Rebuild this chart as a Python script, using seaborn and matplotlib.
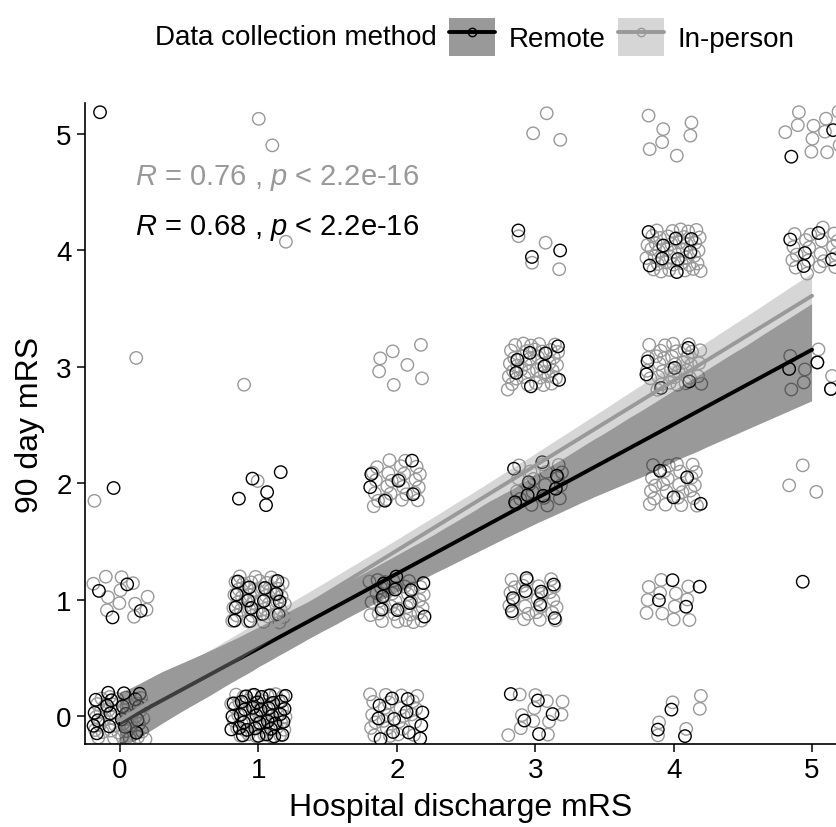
import numpy as np
import pandas as pd
import matplotlib
matplotlib.use("Agg")
import matplotlib.pyplot as plt
import seaborn as sns
from matplotlib.patches import Rectangle
from matplotlib.lines import Line2D

# ---- data (counts of patients per discharge mRS x 90-day mRS cell) ----
discharge_levels = [0, 1, 2, 3, 4, 5]
day90_levels = [0, 1, 2, 3, 4, 5]
remote_counts = [      # rows: discharge mRS 0..5, cols: 90 day mRS 0..5
    [20, 4, 1, 0, 0, 1],
    [35, 15, 5, 0, 0, 0],
    [12, 10, 6, 0, 0, 0],
    [5, 8, 8, 8, 3, 0],
    [3, 4, 4, 6, 9, 0],
    [0, 1, 0, 3, 5, 2],
]
inperson_counts = [
    [40, 12, 1, 1, 0, 0],
    [45, 45, 1, 1, 1, 2],
    [25, 35, 25, 7, 0, 0],
    [12, 25, 20, 40, 4, 3],
    [6, 12, 25, 35, 40, 7],
    [0, 0, 3, 8, 20, 11],
]
group_names = ["Remote", "In-person"]
r_values = ["0.76", "0.68"]       # In-person, Remote
p_text = "2.2e-16"
x_ticks = [0, 1, 2, 3, 4, 5]
y_ticks = [0, 1, 2, 3, 4, 5]

# ---- styling ----
sns.set_theme(style="ticks")
plt.rcParams["font.family"] = ["Liberation Sans", "DejaVu Sans"]
plt.rcParams["mathtext.fontset"] = "custom"
plt.rcParams["mathtext.rm"] = "Liberation Sans"
plt.rcParams["mathtext.it"] = "Liberation Sans:italic"
plt.rcParams["text.color"] = "black"
plt.rcParams["axes.labelcolor"] = "black"
plt.rcParams["xtick.color"] = "black"
plt.rcParams["ytick.color"] = "black"

colors = {"Remote": "#000000", "In-person": "#999999"}


def jitter(n, start, width=0.2):
    # deterministic quasi-uniform jitter offsets (display only)
    i = np.arange(start, start + n)
    a1, a2 = 0.7548776662466927, 0.5698402909980532
    u = (0.5 + a1 * i) % 1.0
    v = (0.5 + a2 * i) % 1.0
    return (u - 0.5) * 2 * width, (v - 0.5) * 2 * width


rows = []
for gname, counts, seed in [("In-person", inperson_counts, 7), ("Remote", remote_counts, 311)]:
    k = seed
    for xi, xv in enumerate(discharge_levels):
        for yi, yv in enumerate(day90_levels):
            n = counts[xi][yi]
            if n == 0:
                continue
            jx, jy = jitter(n, k)
            k += n
            for a, b in zip(jx, jy):
                rows.append({"group": gname, "x": xv, "y": yv, "xj": xv + a, "yj": yv + b})
df = pd.DataFrame(rows)

fig = plt.figure(figsize=(8.36, 8.28), dpi=100)
ax = fig.add_axes([85 / 836, 1 - 745 / 828, 1 - 85 / 836, (745 - 104) / 828])

# points
sns.scatterplot(data=df, x="xj", y="yj", hue="group", palette=colors, s=80,
                linewidth=1.0, legend=False, ax=ax, zorder=2)
sc = ax.collections[-1]
fc = sc.get_facecolors()
sc.set_edgecolors(fc)
sc.set_facecolors("none")

# regression lines with confidence bands
for gname in ["Remote", "In-person"]:
    sub = df[df.group == gname]
    n_before = len(ax.collections)
    sns.regplot(data=sub, x="x", y="y", scatter=False, ci=95, seed=1, truncate=True,
                color=colors[gname], line_kws=dict(lw=2.8, zorder=3), ax=ax)
    for c in ax.collections[n_before:]:
        c.set_facecolor(colors[gname])
        c.set_alpha(0.4)
        c.set_edgecolor("none")
        c.set_zorder(3)

ax.set_xlim(-0.253, 5.173)
ax.set_ylim(-0.2405, 5.266)
ax.set_xticks(x_ticks)
ax.set_yticks(y_ticks)
ax.set_xlabel("Hospital discharge mRS", fontsize=23, labelpad=6)
ax.set_ylabel("90 day mRS", fontsize=23, labelpad=8)
ax.tick_params(axis="both", labelsize=20, length=6, width=1.1, color="black", labelcolor="black")
for s in ["top", "right"]:
    ax.spines[s].set_visible(False)
for s in ["left", "bottom"]:
    ax.spines[s].set_linewidth(1.2)
    ax.spines[s].set_color("black")

ax.text(0.108, 4.63, r"$R$ = " + r_values[0] + r" , $p$ < " + p_text, color="#999999",
        fontsize=21, va="center", ha="left")
ax.text(0.108, 4.20, r"$R$ = " + r_values[1] + r" , $p$ < " + p_text, color="#000000",
        fontsize=21, va="center", ha="left")

# legend on top
fig.text(437 / 836, 1 - 38 / 828, "Data collection method", fontsize=20, ha="right",
         va="center", color="black")
handles = []
for gname, band in [("Remote", "#999999"), ("In-person", "#d6d6d6")]:
    patch = Rectangle((0, 0), 1, 1, facecolor=band, edgecolor="none")
    line = Line2D([], [], color=colors[gname], lw=2.8, marker="o", markersize=6,
                  markerfacecolor="none", markeredgecolor=colors[gname], markeredgewidth=1.0)
    handles.append((patch, line))
leg = fig.legend(handles=handles, labels=group_names, loc="center left",
                 bbox_to_anchor=(449 / 836, 1 - 38 / 828), ncol=2, frameon=False,
                 fontsize=20, handlelength=1.65, handleheight=1.7, handletextpad=0.5,
                 columnspacing=0.45, borderpad=0, borderaxespad=0)
for t in leg.get_texts():
    t.set_color("black")

fig.savefig("out.png", dpi=100)
